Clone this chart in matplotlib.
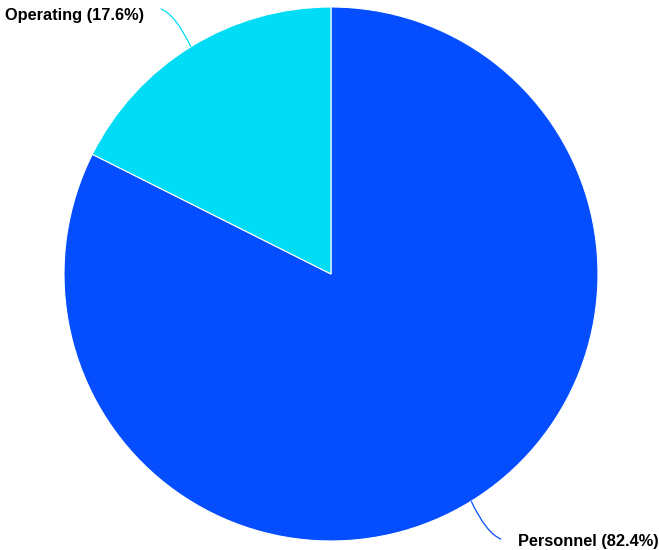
import numpy as np
import matplotlib.pyplot as plt
from matplotlib.path import Path
import matplotlib.patches as mpatches

plt.rcParams['font.family'] = ['Liberation Sans', 'DejaVu Sans']

# Budget split
categories = ['Personnel', 'Operating']
shares = [82.4, 17.6]
colors = ['#054EFF', '#00DCF5']

W, H = 659, 550
center = (331, 276)
radius = 267

fig = plt.figure(figsize=(W / 100, H / 100), dpi=100)
ax = fig.add_axes([0, 0, 1, 1])

wedges, _ = ax.pie(shares, colors=colors, startangle=90, counterclock=False,
                   center=center, radius=radius,
                   wedgeprops=dict(edgecolor='white', linewidth=0.8))

# Leader lines + labels, one per wedge
for w, name, val, col in zip(wedges, categories, shares, colors):
    mid = np.deg2rad((w.theta1 + w.theta2) / 2)
    sx = center[0] + radius * np.cos(mid)
    sy = center[1] + radius * np.sin(mid)
    side = np.sign(np.cos(mid))
    up = np.sign(np.sin(mid))
    ex, ey = sx + side * 30, sy + up * 38
    cx, cy = sx + side * 15, sy + up * 32
    path = Path([(sx, sy), (cx, cy), (ex, ey)],
                [Path.MOVETO, Path.CURVE3, Path.CURVE3])
    ax.add_patch(mpatches.PathPatch(path, fill=False, edgecolor=col,
                                    linewidth=0.9))
    dy = -11 if up > 0 else -7
    ax.text(ex + side * 17, ey + dy, '%s (%.1f%%)' % (name, val),
            ha='left' if side > 0 else 'right', va='baseline',
            fontsize=11.8, fontweight='bold', color='#000000')

ax.set_xlim(0, W)
ax.set_ylim(0, H)
ax.set_aspect('equal', adjustable='box')
ax.axis('off')

fig.savefig('out.png', dpi=100)
